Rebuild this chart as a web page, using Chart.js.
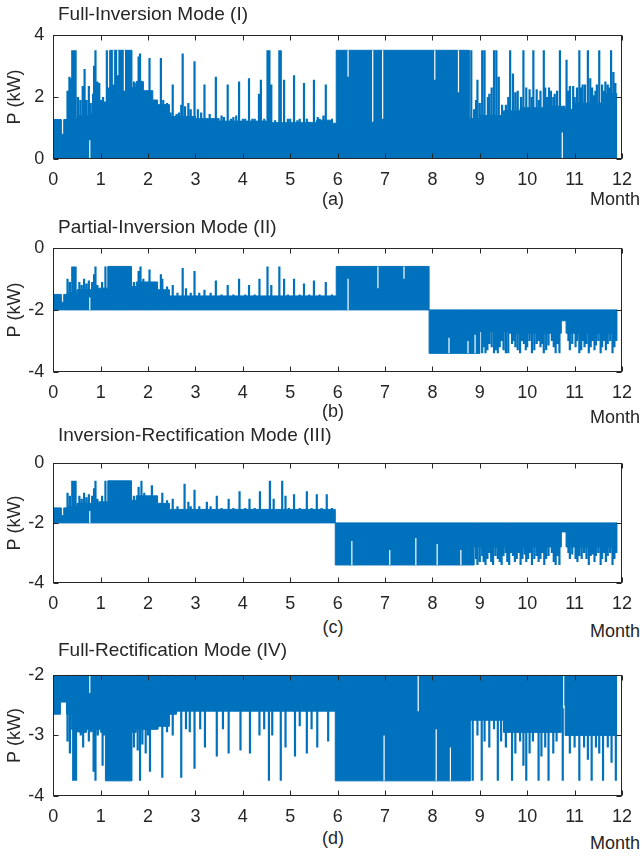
<!DOCTYPE html>
<html>
<head>
<meta charset="utf-8">
<script src="https://cdn.jsdelivr.net/npm/chart.js@4.4.0/dist/chart.umd.min.js"></script>
<style>
  body { margin: 0; background: #fff; }
  #wrap { position: relative; width: 642px; height: 858px; font-family: "Liberation Sans", Arial, sans-serif; color: #262626; }
  canvas { position: absolute; left: 0; }
  .lbl { position: absolute; font-size: 18px; line-height: 18px; white-space: nowrap; }
  .ttl { font-size: 19px; line-height: 19px; }
  .mid { transform: translateX(-50%); }
</style>
</head>
<body>
<div id="wrap">
  <canvas id="chartA"></canvas>
  <canvas id="chartB"></canvas>
  <canvas id="chartC"></canvas>
  <canvas id="chartD"></canvas>

  <div class="lbl ttl" style="left:58px;top:4px">Full-Inversion Mode (I)</div>
  <div class="lbl mid" style="left:333px;top:190px">(a)</div>
  <div class="lbl" style="right:2px;top:190px">Month</div>

  <div class="lbl ttl" style="left:58px;top:217px">Partial-Inversion Mode (II)</div>
  <div class="lbl mid" style="left:333px;top:402px">(b)</div>
  <div class="lbl" style="right:2px;top:408px">Month</div>

  <div class="lbl ttl" style="left:58px;top:425px">Inversion-Rectification Mode (III)</div>
  <div class="lbl mid" style="left:333px;top:618px">(c)</div>
  <div class="lbl" style="right:2px;top:622px">Month</div>

  <div class="lbl ttl" style="left:58px;top:640px">Full-Rectification Mode (IV)</div>
  <div class="lbl mid" style="left:333px;top:829px">(d)</div>
  <div class="lbl" style="right:2px;top:834px">Month</div>
</div>

<script>
// tick labels
const xTicks = [0, 1, 2, 3, 4, 5, 6, 7, 8, 9, 10, 11, 12];
const yTicksA = [0, 2, 4];
const yTicksB = [-4, -2, 0];
const yTicksC = [-4, -2, 0];
const yTicksD = [-4, -3, -2];

// (a) solid band: month where each step starts, top of band (kW), band goes down to 0
const bodyA_m  = [0, 0.17, 0.22, 0.3, 0.55, 0.8, 0.98, 1.19, 1.66, 1.75, 1.9, 2.1, 2.2, 2.45, 3.0, 3.5, 4.5, 5.55, 5.85, 5.97, 8.78, 9.0, 9.5, 9.85, 10.45, 10.8, 11.0, 11.6, 11.9];
const bodyA_hi = [1.27, 0.8, 1.27, 1.3, 1.4, 1.45, 1.7, 3.5, 2.3, 2.5, 2.2, 1.9, 1.75, 1.37, 1.3, 1.22, 1.17, 1.25, 1.15, 3.5, 1.3, 1.4, 1.55, 1.65, 1.7, 1.6, 1.8, 2.1, 2.1];
// (a) spikes [month, peak]
const spikesA = [
  [0.30, 2.2], [0.34, 2.65], [0.38, 2.6], [0.40, 3.5], [0.43, 3.5], [0.47, 3.5], [0.52, 2.0], [0.57, 1.9], [0.62, 2.35], [0.66, 2.9],
  [0.70, 1.9], [0.75, 2.35], [0.79, 1.8], [0.84, 2.1], [0.86, 3.0], [0.89, 3.5], [0.93, 2.5], [0.97, 2.45], [1.01, 1.9], [1.05, 2.0],
  [1.09, 1.85], [1.13, 3.5], [1.17, 2.3], [1.70, 2.5], [1.75, 2.45], [1.80, 3.3], [1.83, 3.4], [1.88, 2.45], [1.95, 2.1], [2.03, 3.25],
  [2.06, 2.1], [2.12, 1.85], [2.27, 3.25], [2.32, 1.9], [2.37, 1.7], [2.40, 1.8], [2.47, 1.5], [2.52, 2.4], [2.60, 1.45], [2.65, 1.5],
  [2.70, 1.75], [2.73, 3.4], [2.78, 1.7], [2.85, 1.8], [2.90, 1.6], [2.98, 3.15], [3.05, 1.6], [3.12, 1.5], [3.19, 2.4], [3.30, 1.45],
  [3.43, 2.65], [3.55, 1.4], [3.60, 1.35], [3.68, 2.4], [3.75, 1.3], [3.80, 1.35], [3.86, 1.4], [3.92, 2.5], [4.00, 1.3], [4.05, 1.3],
  [4.13, 2.6], [4.20, 1.3], [4.25, 1.3], [4.34, 2.1], [4.38, 2.55], [4.45, 1.3], [4.52, 3.5], [4.56, 3.5], [4.60, 2.4], [4.68, 1.25],
  [4.77, 3.5], [4.80, 3.5], [4.87, 2.55], [4.95, 1.3], [5.00, 1.3], [5.08, 2.7], [5.15, 1.25], [5.20, 1.3], [5.29, 2.45], [5.35, 1.3],
  [5.40, 1.2], [5.50, 2.55], [5.58, 1.35], [5.62, 1.3], [5.70, 1.4], [5.75, 2.4], [5.88, 1.3],
  [8.82, 3.5], [8.88, 1.6], [8.92, 1.9], [8.95, 2.55], [9.00, 1.8], [9.05, 3.5], [9.10, 3.5], [9.17, 2.0], [9.20, 2.1], [9.25, 2.3],
  [9.30, 3.5], [9.35, 3.5], [9.40, 2.65], [9.47, 1.75], [9.55, 1.75], [9.60, 2.0], [9.64, 3.5], [9.70, 2.75], [9.75, 2.15], [9.80, 2.2],
  [9.87, 2.0], [9.92, 3.5], [9.98, 2.3], [10.05, 2.25], [10.10, 2.0], [10.13, 3.5], [10.20, 2.25], [10.25, 1.9], [10.28, 2.2], [10.35, 3.5],
  [10.38, 2.3], [10.42, 2.0], [10.46, 2.3], [10.50, 2.2], [10.55, 2.0], [10.58, 2.1], [10.63, 2.2], [10.69, 3.5], [10.83, 3.2], [10.87, 2.2],
  [10.90, 2.35], [10.97, 2.35], [11.00, 2.0], [11.05, 2.3], [11.10, 3.5], [11.13, 2.3], [11.17, 2.4], [11.22, 2.4], [11.28, 3.5], [11.33, 2.6],
  [11.37, 2.3], [11.40, 2.05], [11.44, 2.2], [11.47, 2.4], [11.52, 3.5], [11.58, 2.4], [11.62, 2.2], [11.65, 2.5], [11.70, 2.4], [11.74, 2.3],
  [11.77, 3.5], [11.82, 2.8], [11.86, 2.45]
];
// (a) empty stripes [month, from, to]
const gapsA = [[0.77, 0, 0.6], [1.27, 2.4, 3.5], [1.36, 2.7, 3.5], [1.50, 2.2, 3.5], [6.22, 2.65, 3.5], [6.74, 1.2, 3.5], [6.95, 1.3, 3.5], [8.05, 2.55, 3.5], [8.55, 2.15, 3.5], [10.74, 0, 0.85]];

// (b)
const bodyB_m  = [0, 0.17, 0.22, 0.3, 0.5, 0.95, 1.15, 1.65, 1.75, 2.2, 2.45, 5.97, 7.93, 8.65, 9.0, 9.62, 10.72, 10.82, 11.9];
const bodyB_hi = [-1.5, -1.75, -1.5, -1.45, -1.35, -1.3, -0.6, -1.25, -1.1, -1.35, -1.55, -0.6, -2, -2, -2, -2, -2, -2, -2];
const bodyB_lo = [-2, -2, -2, -2, -2, -2, -2, -2, -2, -2, -2, -2, -3.4, -3.4, -2.7, -2.75, -2.35, -2.75, -2.75];
const spikesB = [
  [0.30, -1.0], [0.35, -1.1], [0.40, -0.6], [0.43, -0.6], [0.47, -0.6], [0.55, -1.1], [0.60, -1.2], [0.65, -1.0], [0.70, -1.15], [0.75, -1.05],
  [0.82, -1.1], [0.86, -0.85], [0.89, -0.6], [0.93, -1.2], [1.03, -1.1], [1.10, -0.6], [1.70, -1.1], [1.80, -0.75], [1.84, -0.6], [1.90, -1.0],
  [2.00, -1.15], [2.03, -0.7], [2.10, -1.2], [2.27, -0.85], [2.30, -1.0], [2.40, -1.25], [2.52, -1.2], [2.62, -1.45], [2.73, -0.65], [2.80, -1.3],
  [2.90, -1.45], [2.98, -0.75], [3.08, -1.45], [3.19, -1.35], [3.32, -1.45], [3.43, -1.05], [3.55, -1.5], [3.68, -1.2], [3.80, -1.5], [3.92, -1.0],
  [4.05, -1.5], [4.13, -1.2], [4.25, -1.5], [4.35, -1.0], [4.52, -0.6], [4.60, -1.2], [4.77, -0.6], [4.87, -1.0], [4.95, -1.5], [5.08, -1.0],
  [5.20, -1.5], [5.29, -1.15], [5.40, -1.5], [5.50, -1.05], [5.62, -1.5], [5.75, -1.1], [5.88, -1.5],
  [8.98, -3.4], [9.05, -3.4], [9.08, -3.2], [9.12, -3.4], [9.16, -3.3], [9.20, -3.1], [9.25, -3.2], [9.30, -3.4], [9.34, -3.3], [9.38, -3.4],
  [9.42, -3.2], [9.46, -3.0], [9.50, -3.3], [9.55, -3.4], [9.60, -3.4], [9.68, -3.1], [9.72, -3.0], [9.75, -3.2], [9.80, -3.3], [9.85, -3.4],
  [9.89, -3.0], [9.93, -3.1], [9.97, -3.3], [10.00, -3.2], [10.05, -3.0], [10.10, -3.4], [10.15, -3.3], [10.20, -3.1], [10.24, -3.0], [10.28, -3.2],
  [10.32, -3.1], [10.35, -3.4], [10.40, -3.3], [10.45, -3.15], [10.52, -3.0], [10.56, -3.2], [10.60, -3.4], [10.64, -3.1], [10.68, -3.4], [10.87, -3.0],
  [10.90, -3.3], [10.95, -3.1], [11.02, -3.2], [11.05, -3.0], [11.10, -3.4], [11.14, -3.3], [11.18, -3.0], [11.21, -3.2], [11.25, -3.1], [11.30, -3.4],
  [11.34, -3.2], [11.38, -3.0], [11.42, -3.3], [11.45, -3.15], [11.50, -3.0], [11.55, -3.4], [11.58, -3.2], [11.62, -3.0], [11.66, -3.3], [11.70, -3.1],
  [11.75, -3.0], [11.80, -3.4], [11.84, -3.2], [11.88, -3.0]
];
const gapsB = [[0.77, -2, -1.6], [6.22, -2, -1.0], [6.85, -1.3, -0.6], [7.40, -1.0, -0.6], [8.35, -3.4, -2.9], [8.75, -3.4, -3.0], [8.9, -3.4, -2.8]];

// (c)
const bodyC_m  = [0, 0.17, 0.22, 0.3, 0.5, 0.95, 1.15, 1.65, 1.75, 2.2, 2.45, 5.95, 8.88, 9.62, 10.72, 10.82, 11.9];
const bodyC_hi = [-1.5, -1.75, -1.5, -1.45, -1.35, -1.3, -0.6, -1.25, -1.1, -1.35, -1.55, -2, -2, -2, -2, -2, -2];
const bodyC_lo = [-2, -2, -2, -2, -2, -2, -2, -2, -2, -2, -2, -3.4, -2.8, -2.8, -2.3, -2.8, -2.8];
const spikesC = [
  [0.30, -1.0], [0.35, -1.1], [0.40, -0.6], [0.43, -0.6], [0.47, -0.6], [0.55, -1.1], [0.60, -1.2], [0.65, -1.0], [0.70, -1.15], [0.75, -1.05],
  [0.82, -1.1], [0.86, -0.85], [0.89, -0.6], [0.93, -1.2], [1.03, -1.1], [1.10, -0.6], [1.70, -1.1], [1.80, -0.8], [1.86, -0.6], [1.92, -1.0],
  [2.00, -1.15], [2.08, -0.75], [2.15, -1.2], [2.30, -1.0], [2.40, -1.25], [2.52, -1.2], [2.62, -1.45], [2.77, -0.7], [2.85, -1.3], [2.90, -1.45],
  [2.98, -0.9], [3.08, -1.45], [3.24, -1.3], [3.32, -1.45], [3.45, -1.1], [3.55, -1.5], [3.70, -1.2], [3.80, -1.5], [3.93, -0.95], [4.05, -1.5],
  [4.14, -1.2], [4.25, -1.5], [4.36, -0.95], [4.57, -0.6], [4.65, -1.2], [4.83, -0.6], [4.90, -1.1], [4.97, -1.5], [5.08, -1.05], [5.20, -1.5],
  [5.35, -0.95], [5.45, -1.5], [5.56, -1.05], [5.66, -1.5], [5.77, -1.05], [5.88, -1.5],
  [8.92, -3.2], [8.95, -3.4], [9.00, -3.3], [9.05, -3.1], [9.08, -3.3], [9.12, -3.4], [9.16, -3.2], [9.20, -3.0], [9.24, -3.3], [9.28, -3.4],
  [9.33, -3.1], [9.38, -3.2], [9.42, -3.3], [9.46, -3.4], [9.50, -3.1], [9.55, -3.0], [9.58, -3.3], [9.62, -3.4], [9.66, -3.0], [9.70, -3.1],
  [9.74, -3.3], [9.78, -3.2], [9.82, -3.0], [9.86, -3.4], [9.90, -3.2], [9.95, -3.05], [9.98, -3.3], [10.02, -3.2], [10.06, -3.0], [10.10, -3.4],
  [10.15, -3.2], [10.20, -3.1], [10.24, -3.3], [10.28, -3.2], [10.32, -3.0], [10.36, -3.4], [10.40, -3.2], [10.45, -3.1], [10.52, -3.0], [10.56, -3.3],
  [10.60, -3.4], [10.64, -3.1], [10.68, -3.4], [10.87, -3.0], [10.90, -3.2], [10.95, -3.05], [11.02, -3.2], [11.06, -3.3], [11.10, -3.1], [11.15, -3.2],
  [11.20, -3.0], [11.25, -3.2], [11.30, -3.4], [11.34, -3.1], [11.38, -3.05], [11.42, -3.3], [11.45, -3.1], [11.50, -3.0], [11.55, -3.4], [11.58, -3.2],
  [11.62, -3.0], [11.66, -3.3], [11.70, -3.1], [11.75, -3.0], [11.80, -3.4], [11.84, -3.2], [11.88, -3.0]
];
const gapsC = [[0.77, -2, -1.6], [6.30, -3.4, -2.6], [7.10, -3.4, -2.9], [7.65, -3.4, -2.5], [8.10, -3.4, -2.7], [8.60, -3.4, -2.9]];

// (d) band goes from -2 down to these values
const bodyD_m  = [0, 0.15, 0.28, 0.38, 0.55, 0.7, 1.0, 1.1, 1.66, 1.75, 2.2, 2.45, 2.6, 5.95, 8.8, 9.5, 10.72, 10.8, 11.9];
const bodyD_lo = [-2.65, -2.45, -2.65, -2.9, -2.95, -2.9, -2.95, -3.75, -2.95, -2.9, -2.85, -2.65, -2.6, -3.75, -2.75, -2.95, -2.5, -3.0, -3.0];
const spikesD = [
  [0.30, -3.1], [0.35, -3.3], [0.42, -3.75], [0.45, -3.75], [0.48, -3.75], [0.52, -2.95], [0.58, -3.0], [0.63, -3.2], [0.68, -2.9], [0.75, -3.1],
  [0.80, -2.95], [0.85, -3.6], [0.89, -3.75], [0.94, -3.0], [0.98, -2.9], [1.04, -3.5], [1.07, -3.0], [1.70, -3.2], [1.78, -3.25], [1.83, -3.75],
  [1.88, -3.15], [1.95, -3.3], [2.00, -3.0], [2.04, -3.6], [2.10, -2.85], [2.20, -2.9], [2.30, -3.7], [2.40, -2.95], [2.52, -3.0], [2.70, -3.7],
  [2.80, -2.9], [2.88, -2.95], [2.98, -3.55], [3.10, -2.9], [3.20, -3.2], [3.45, -3.35], [3.58, -2.9], [3.70, -3.3], [3.95, -3.25], [4.15, -3.3],
  [4.35, -3.0], [4.45, -2.9], [4.55, -3.75], [4.62, -3.0], [4.80, -3.75], [4.90, -3.2], [5.10, -3.35], [5.20, -2.85], [5.35, -3.3], [5.45, -2.9],
  [5.57, -3.2], [5.80, -3.1],
  [8.85, -3.75], [8.95, -3.0], [9.04, -3.75], [9.10, -3.1], [9.20, -3.2], [9.30, -2.9], [9.38, -3.75], [9.45, -3.1], [9.55, -3.2], [9.62, -2.95],
  [9.68, -3.75], [9.75, -3.3], [9.85, -3.1], [9.92, -3.5], [9.98, -3.75], [10.05, -3.3], [10.12, -3.1], [10.24, -3.75], [10.30, -3.35], [10.38, -3.2],
  [10.45, -3.75], [10.55, -3.3], [10.62, -3.1], [10.75, -3.75], [10.90, -3.3], [11.00, -3.2], [11.10, -3.75], [11.20, -3.2], [11.28, -3.4], [11.36, -3.75],
  [11.45, -3.2], [11.52, -3.3], [11.60, -3.75], [11.70, -3.2], [11.78, -3.45], [11.87, -3.75]
];
const gapsD = [[0.77, -2.3, -2], [6.98, -3.75, -3.0], [7.70, -2.6, -2.0], [8.08, -3.75, -2.9], [8.38, -3.75, -3.2], [10.77, -2.55, -2]];

const blue = '#0072BD';
const ink = '#262626';

Chart.defaults.font.family = '"Liberation Sans", Arial, sans-serif';

function steps(ms, vals) {
  return ms.map(function (m, i) { return { x: m, y: vals[i] }; });
}

function strokes(list, base) {
  const pts = [];
  list.forEach(function (s) {
    pts.push({ x: s[0], y: base }, { x: s[0], y: s[1] }, { x: s[0], y: null });
  });
  return pts;
}

function stripes(list) {
  const pts = [];
  list.forEach(function (g) {
    pts.push({ x: g[0], y: g[1] }, { x: g[0], y: g[2] }, { x: g[0], y: null });
  });
  return pts;
}

function lineSet(data, color, width, order) {
  return { data: data, borderColor: color, borderWidth: width, pointRadius: 0, fill: false, spanGaps: false, order: order };
}

function bandSet(data, fill, order) {
  return { data: data, borderColor: blue, backgroundColor: blue, borderWidth: 1, pointRadius: 0, stepped: true, fill: fill, order: order };
}

// box round the plot with short inward ticks
const boxPlugin = {
  id: 'box',
  afterDraw: function (chart) {
    const ctx = chart.ctx;
    const a = chart.chartArea;
    const sx = chart.scales.x;
    const sy = chart.scales.y;
    const l = Math.round(a.left) + 0.5, r = Math.round(a.right) - 0.5;
    const t = Math.round(a.top) + 0.5, b = Math.round(a.bottom) - 0.5;
    ctx.save();
    ctx.strokeStyle = ink;
    ctx.lineWidth = 1;
    ctx.strokeRect(l, t, r - l, b - t);
    ctx.beginPath();
    sx.ticks.forEach(function (tk) {
      const px = Math.round(sx.getPixelForValue(tk.value)) + 0.5;
      ctx.moveTo(px, b); ctx.lineTo(px, b - 5);
      ctx.moveTo(px, t); ctx.lineTo(px, t + 5);
    });
    sy.ticks.forEach(function (tk) {
      const py = Math.round(sy.getPixelForValue(tk.value)) + 0.5;
      ctx.moveTo(l, py); ctx.lineTo(l + 5, py);
      ctx.moveTo(r, py); ctx.lineTo(r - 5, py);
    });
    ctx.stroke();
    ctx.restore();
  }
};

function drawPanel(id, plotTop, plotH, yTicks, datasets) {
  const canvas = document.getElementById(id);
  canvas.width = 642;
  canvas.height = plotH + 42;
  canvas.style.top = (plotTop - 10) + 'px';
  new Chart(canvas.getContext('2d'), {
    type: 'line',
    data: { datasets: datasets },
    options: {
      responsive: false,
      animation: false,
      layout: { padding: { top: 10, right: 17.7, left: 0, bottom: 0 } },
      plugins: { legend: { display: false }, tooltip: { enabled: false } },
      scales: {
        x: {
          type: 'linear',
          min: xTicks[0],
          max: xTicks[xTicks.length - 1],
          afterBuildTicks: function (s) { s.ticks = xTicks.map(function (v) { return { value: v }; }); },
          afterFit: function (s) { s.height = 32; },
          grid: { display: false, drawTicks: false },
          border: { display: false },
          ticks: { autoSkip: false, maxRotation: 0, padding: 10, color: ink, font: { size: 18 } }
        },
        y: {
          type: 'linear',
          min: yTicks[0],
          max: yTicks[yTicks.length - 1],
          afterBuildTicks: function (s) { s.ticks = yTicks.map(function (v) { return { value: v }; }); },
          afterFit: function (s) { s.width = 53.3; },
          grid: { display: false, drawTicks: false },
          border: { display: false },
          ticks: { padding: 9, color: ink, font: { size: 18 } },
          title: { display: true, text: 'P (kW)', color: ink, font: { size: 18 }, padding: { top: 4, bottom: 0 } }
        }
      }
    },
    plugins: [boxPlugin]
  });
}

drawPanel('chartA', 25, 134, yTicksA, [
  lineSet(stripes(gapsA), '#ffffff', 1.2, 0),
  lineSet(strokes(spikesA, 0), blue, 2.2, 1),
  bandSet(steps(bodyA_m, bodyA_hi), 'origin', 2)
]);

drawPanel('chartB', 238.3, 134, yTicksB, [
  lineSet(stripes(gapsB), '#ffffff', 1.2, 0),
  lineSet(strokes(spikesB, -2), blue, 2.2, 1),
  bandSet(steps(bodyB_m, bodyB_hi), '+1', 2),
  bandSet(steps(bodyB_m, bodyB_lo), false, 3)
]);

drawPanel('chartC', 452.7, 130.6, yTicksC, [
  lineSet(stripes(gapsC), '#ffffff', 1.2, 0),
  lineSet(strokes(spikesC, -2), blue, 2.2, 1),
  bandSet(steps(bodyC_m, bodyC_hi), '+1', 2),
  bandSet(steps(bodyC_m, bodyC_lo), false, 3)
]);

drawPanel('chartD', 665, 131.7, yTicksD, [
  lineSet(stripes(gapsD), '#ffffff', 1.2, 0),
  lineSet(strokes(spikesD, -2), blue, 2.2, 1),
  bandSet(steps(bodyD_m, bodyD_lo), 'end', 2)
]);
</script>
</body>
</html>
